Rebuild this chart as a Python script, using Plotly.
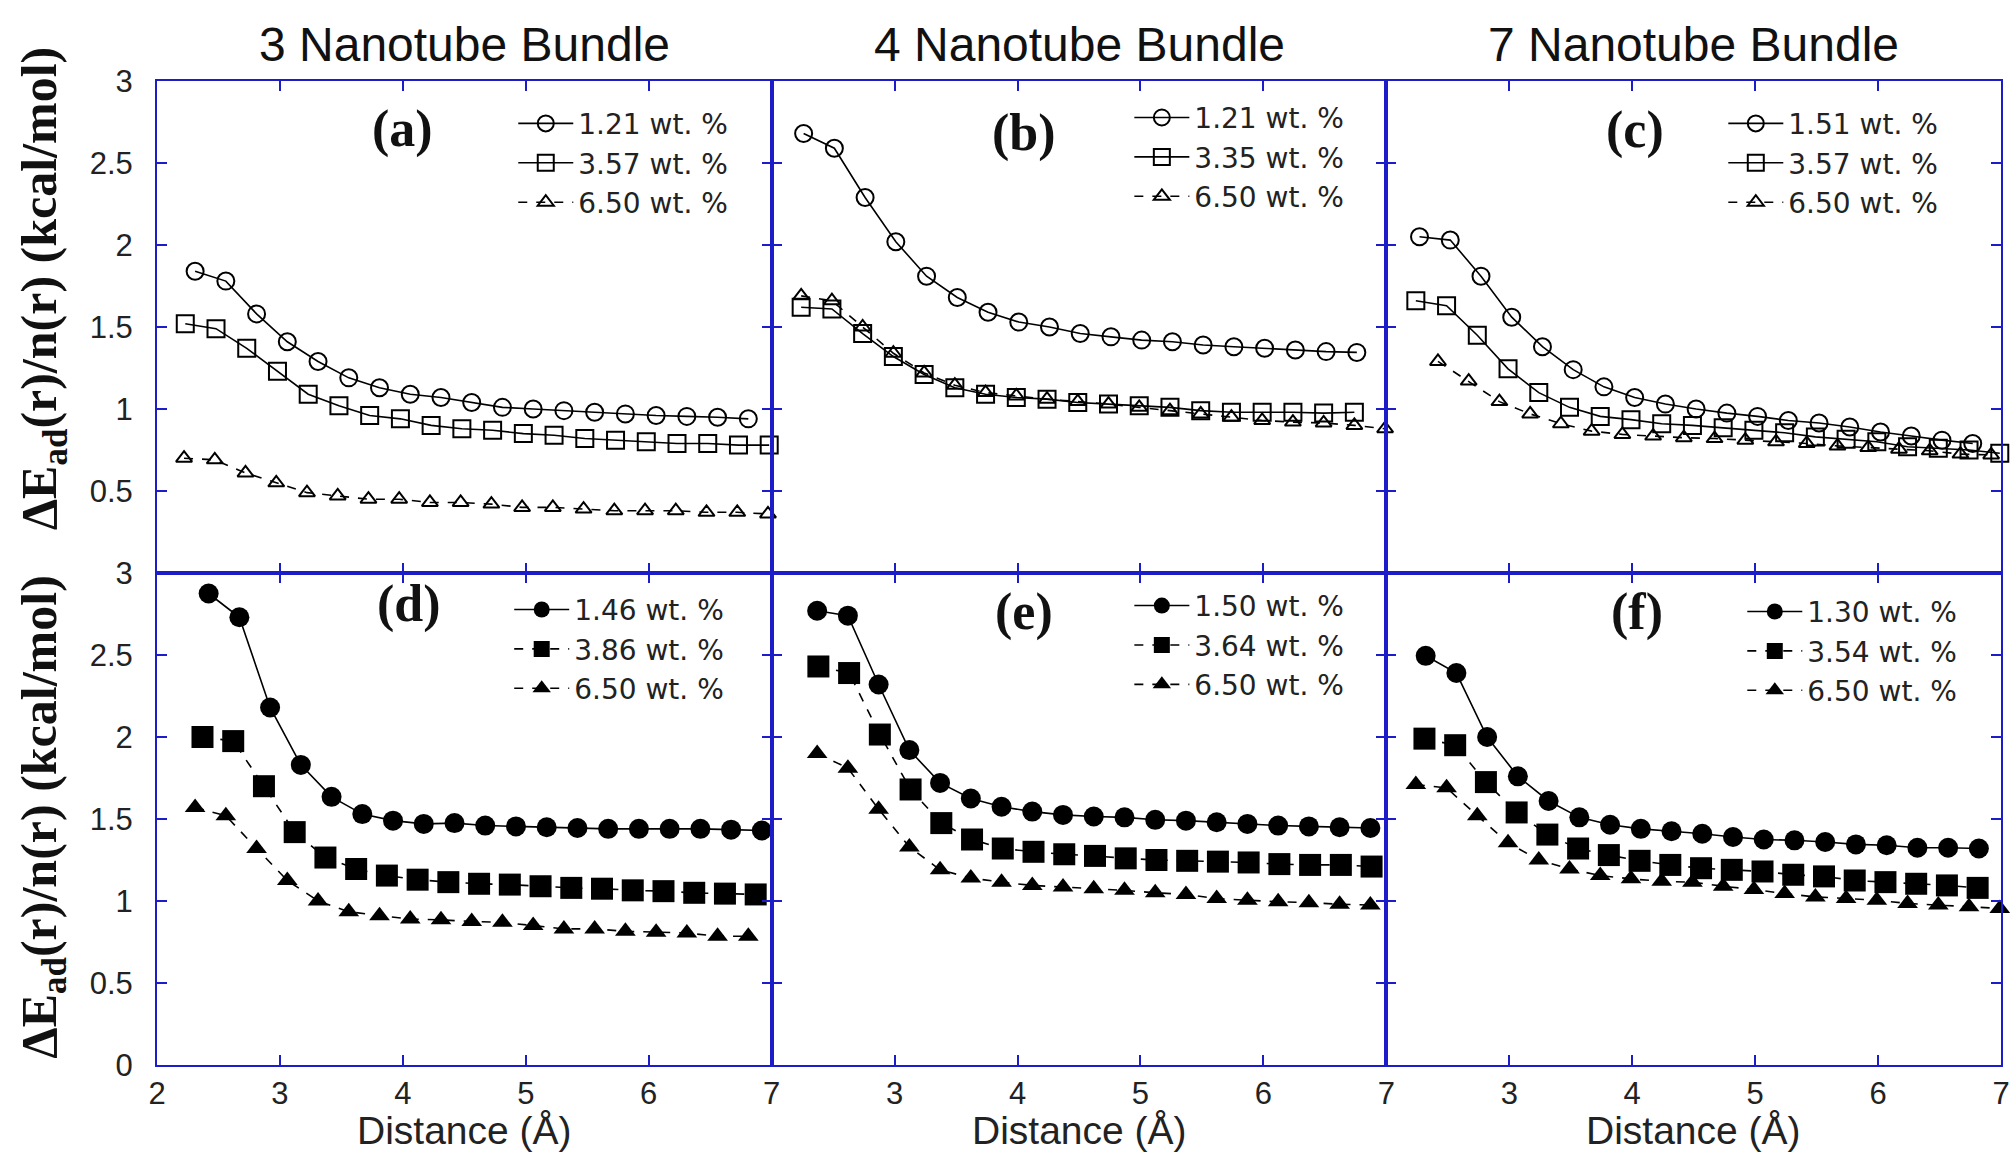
import plotly.graph_objects as go
from plotly.subplots import make_subplots

# ---------------- data ----------------
# Panel (a) 3 nanotube bundle, open symbols
xa1 = [2.31, 2.56, 2.81, 3.06, 3.31, 3.56, 3.81, 4.06, 4.31, 4.56, 4.81, 5.06, 5.31, 5.56, 5.81, 6.06, 6.31, 6.56, 6.81]
ya1 = [1.84, 1.78, 1.58, 1.41, 1.29, 1.19, 1.13, 1.09, 1.07, 1.04, 1.01, 1.00, 0.99, 0.98, 0.97, 0.96, 0.955, 0.95, 0.94]
xa2 = [2.23, 2.48, 2.73, 2.98, 3.23, 3.48, 3.73, 3.98, 4.23, 4.48, 4.73, 4.98, 5.23, 5.48, 5.73, 5.98, 6.23, 6.48, 6.73, 6.98]
ya2 = [1.52, 1.49, 1.37, 1.23, 1.09, 1.02, 0.96, 0.94, 0.90, 0.88, 0.87, 0.85, 0.84, 0.82, 0.81, 0.80, 0.79, 0.79, 0.78, 0.78]
xa3 = [2.22, 2.47, 2.72, 2.97, 3.22, 3.47, 3.72, 3.97, 4.22, 4.47, 4.72, 4.97, 5.22, 5.47, 5.72, 5.97, 6.22, 6.47, 6.72, 6.97]
ya3 = [0.70, 0.69, 0.61, 0.55, 0.49, 0.47, 0.45, 0.45, 0.43, 0.43, 0.42, 0.40, 0.40, 0.39, 0.38, 0.38, 0.38, 0.37, 0.37, 0.36]

# Panel (b) 4 nanotube bundle
xb1 = [2.26, 2.51, 2.76, 3.01, 3.26, 3.51, 3.76, 4.01, 4.26, 4.51, 4.76, 5.01, 5.26, 5.51, 5.76, 6.01, 6.26, 6.51, 6.76]
yb1 = [2.68, 2.59, 2.29, 2.02, 1.81, 1.68, 1.59, 1.53, 1.50, 1.46, 1.44, 1.42, 1.41, 1.39, 1.38, 1.37, 1.36, 1.35, 1.345]
xb2 = [2.24, 2.49, 2.74, 2.99, 3.24, 3.49, 3.74, 3.99, 4.24, 4.49, 4.74, 4.99, 5.24, 5.49, 5.74, 5.99, 6.24, 6.49, 6.74]
yb2 = [1.62, 1.61, 1.46, 1.32, 1.21, 1.13, 1.09, 1.07, 1.06, 1.04, 1.03, 1.02, 1.01, 0.99, 0.98, 0.98, 0.98, 0.975, 0.98]
xb3 = [2.24, 2.49, 2.74, 2.99, 3.24, 3.49, 3.74, 3.99, 4.24, 4.49, 4.74, 4.99, 5.24, 5.49, 5.74, 5.99, 6.24, 6.49, 6.74, 6.99]
yb3 = [1.69, 1.66, 1.50, 1.34, 1.22, 1.145, 1.10, 1.08, 1.06, 1.045, 1.03, 1.01, 0.99, 0.97, 0.95, 0.93, 0.92, 0.915, 0.90, 0.88]

# Panel (c) 7 nanotube bundle
xc1 = [2.27, 2.52, 2.77, 3.02, 3.27, 3.52, 3.77, 4.02, 4.27, 4.52, 4.77, 5.02, 5.27, 5.52, 5.77, 6.02, 6.27, 6.52, 6.77]
yc1 = [2.05, 2.03, 1.81, 1.56, 1.38, 1.24, 1.135, 1.07, 1.03, 1.00, 0.975, 0.955, 0.93, 0.915, 0.89, 0.86, 0.835, 0.81, 0.79]
xc2 = [2.24, 2.49, 2.74, 2.99, 3.24, 3.49, 3.74, 3.99, 4.24, 4.49, 4.74, 4.99, 5.24, 5.49, 5.74, 5.99, 6.24, 6.49, 6.74, 6.99]
yc2 = [1.66, 1.63, 1.45, 1.245, 1.10, 1.01, 0.955, 0.935, 0.91, 0.90, 0.885, 0.87, 0.855, 0.83, 0.815, 0.80, 0.77, 0.76, 0.75, 0.73]
xc3 = [2.42, 2.67, 2.92, 3.17, 3.42, 3.67, 3.92, 4.17, 4.42, 4.67, 4.92, 5.17, 5.42, 5.67, 5.92, 6.17, 6.42, 6.67, 6.92]
yc3 = [1.29, 1.17, 1.045, 0.97, 0.91, 0.865, 0.845, 0.835, 0.825, 0.82, 0.81, 0.80, 0.79, 0.775, 0.765, 0.755, 0.745, 0.725, 0.72]

# Panel (d) 3 nanotube bundle, filled symbols
xd1 = [2.42, 2.67, 2.92, 3.17, 3.42, 3.67, 3.92, 4.17, 4.42, 4.67, 4.92, 5.17, 5.42, 5.67, 5.92, 6.17, 6.42, 6.67, 6.92]
yd1 = [2.875, 2.73, 2.18, 1.83, 1.635, 1.53, 1.49, 1.47, 1.475, 1.46, 1.455, 1.45, 1.445, 1.44, 1.44, 1.44, 1.44, 1.435, 1.43]
xd2 = [2.37, 2.62, 2.87, 3.12, 3.37, 3.62, 3.87, 4.12, 4.37, 4.62, 4.87, 5.12, 5.37, 5.62, 5.87, 6.12, 6.37, 6.62, 6.87]
yd2 = [2.00, 1.975, 1.70, 1.42, 1.265, 1.195, 1.155, 1.13, 1.115, 1.105, 1.10, 1.09, 1.08, 1.075, 1.065, 1.06, 1.05, 1.045, 1.04]
xd3 = [2.31, 2.56, 2.81, 3.06, 3.31, 3.56, 3.81, 4.06, 4.31, 4.56, 4.81, 5.06, 5.31, 5.56, 5.81, 6.06, 6.31, 6.56, 6.81]
yd3 = [1.57, 1.52, 1.32, 1.125, 1.00, 0.935, 0.91, 0.89, 0.885, 0.875, 0.87, 0.85, 0.83, 0.83, 0.815, 0.81, 0.805, 0.785, 0.785]

# Panel (e) 4 nanotube bundle
xe1 = [2.37, 2.62, 2.87, 3.12, 3.37, 3.62, 3.87, 4.12, 4.37, 4.62, 4.87, 5.12, 5.37, 5.62, 5.87, 6.12, 6.37, 6.62, 6.87]
ye1 = [2.77, 2.74, 2.32, 1.92, 1.72, 1.625, 1.575, 1.545, 1.525, 1.515, 1.51, 1.495, 1.49, 1.48, 1.47, 1.46, 1.455, 1.45, 1.445]
xe2 = [2.38, 2.63, 2.88, 3.13, 3.38, 3.63, 3.88, 4.13, 4.38, 4.63, 4.88, 5.13, 5.38, 5.63, 5.88, 6.13, 6.38, 6.63, 6.88]
ye2 = [2.43, 2.39, 2.015, 1.68, 1.475, 1.375, 1.32, 1.30, 1.285, 1.275, 1.26, 1.25, 1.245, 1.24, 1.235, 1.225, 1.22, 1.22, 1.21]
xe3 = [2.37, 2.62, 2.87, 3.12, 3.37, 3.62, 3.87, 4.12, 4.37, 4.62, 4.87, 5.12, 5.37, 5.62, 5.87, 6.12, 6.37, 6.62, 6.87]
ye3 = [1.90, 1.81, 1.56, 1.33, 1.19, 1.14, 1.115, 1.095, 1.085, 1.075, 1.065, 1.05, 1.04, 1.015, 1.005, 0.995, 0.99, 0.98, 0.975]

# Panel (f) 7 nanotube bundle
xf1 = [2.32, 2.57, 2.82, 3.07, 3.32, 3.57, 3.82, 4.07, 4.32, 4.57, 4.82, 5.07, 5.32, 5.57, 5.82, 6.07, 6.32, 6.57, 6.82]
yf1 = [2.495, 2.39, 2.00, 1.76, 1.61, 1.51, 1.465, 1.44, 1.425, 1.41, 1.39, 1.375, 1.37, 1.36, 1.345, 1.34, 1.325, 1.325, 1.32]
xf2 = [2.31, 2.56, 2.81, 3.06, 3.31, 3.56, 3.81, 4.06, 4.31, 4.56, 4.81, 5.06, 5.31, 5.56, 5.81, 6.06, 6.31, 6.56, 6.81]
yf2 = [1.99, 1.95, 1.725, 1.54, 1.405, 1.32, 1.28, 1.245, 1.22, 1.20, 1.19, 1.18, 1.16, 1.15, 1.125, 1.115, 1.105, 1.095, 1.08]
xf3 = [2.24, 2.49, 2.74, 2.99, 3.24, 3.49, 3.74, 3.99, 4.24, 4.49, 4.74, 4.99, 5.24, 5.49, 5.74, 5.99, 6.24, 6.49, 6.74, 6.99]
yf3 = [1.71, 1.69, 1.52, 1.355, 1.25, 1.195, 1.155, 1.135, 1.12, 1.115, 1.09, 1.07, 1.045, 1.025, 1.015, 1.005, 0.985, 0.975, 0.965, 0.955]

labels_a = ["1.21 wt. %", "3.57 wt. %", "6.50 wt. %"]
labels_b = ["1.21 wt. %", "3.35 wt. %", "6.50 wt. %"]
labels_c = ["1.51 wt. %", "3.57 wt. %", "6.50 wt. %"]
labels_d = ["1.46 wt. %", "3.86 wt. %", "6.50 wt. %"]
labels_e = ["1.50 wt. %", "3.64 wt. %", "6.50 wt. %"]
labels_f = ["1.30 wt. %", "3.54 wt. %", "6.50 wt. %"]

col_titles = ["3 Nanotube Bundle", "4 Nanotube Bundle", "7 Nanotube Bundle"]
panel_tags = ["(a)", "(b)", "(c)", "(d)", "(e)", "(f)"]
x_ticks_first = [2, 3, 4, 5, 6, 7]
x_ticks_rest = [3, 4, 5, 6, 7]
y_ticks_top = [0.5, 1, 1.5, 2, 2.5, 3]
y_ticks_bottom = [0, 0.5, 1, 1.5, 2, 2.5, 3]

# ---------------- figure ----------------
BLUE = "#1c1cc8"
SANS = "Liberation Sans, Arial, sans-serif"
WIDE = "DejaVu Sans, Liberation Sans, sans-serif"
SERIF = "Liberation Serif, Times New Roman, serif"

fig = make_subplots(rows=2, cols=3, horizontal_spacing=0, vertical_spacing=0)

panels = [
    (1, 1, [(xa1, ya1), (xa2, ya2), (xa3, ya3)], labels_a, False),
    (1, 2, [(xb1, yb1), (xb2, yb2), (xb3, yb3)], labels_b, False),
    (1, 3, [(xc1, yc1), (xc2, yc2), (xc3, yc3)], labels_c, False),
    (2, 1, [(xd1, yd1), (xd2, yd2), (xd3, yd3)], labels_d, True),
    (2, 2, [(xe1, ye1), (xe2, ye2), (xe3, ye3)], labels_e, True),
    (2, 3, [(xf1, yf1), (xf2, yf2), (xf3, yf3)], labels_f, True),
]

open_syms = ["circle-open", "square-open", "triangle-up-open"]
fill_syms = ["circle", "square", "triangle-up"]
open_sizes = [17, 17, 14]
fill_sizes = [20, 22, 18]

for k, (r, c, series, labs, filled) in enumerate(panels):
    leg = "legend" if k == 0 else f"legend{k+1}"
    for j, ((xs, ys), lab) in enumerate(zip(series, labs)):
        if filled:
            marker = dict(symbol=fill_syms[j], size=fill_sizes[j], color="black",
                          line=dict(width=0))
            dash = "solid" if j == 0 else "dash"
        else:
            marker = dict(symbol=open_syms[j], size=open_sizes[j], color="black",
                          line=dict(width=2, color="black"))
            dash = "solid" if j < 2 else "dash"
        fig.add_trace(go.Scatter(
            x=xs, y=ys, mode="lines+markers", name=lab, legend=leg,
            line=dict(color="black", width=1.6, dash=dash),
            marker=marker, cliponaxis=False,
        ), row=r, col=c)

axis_common = dict(showline=True, linecolor=BLUE, linewidth=2, mirror="ticks",
                   ticks="inside", ticklen=10, tickwidth=2, tickcolor=BLUE,
                   showgrid=False, zeroline=False,
                   tickfont=dict(family=SANS, size=31, color="#222"))

for r in (1, 2):
    for c in (1, 2, 3):
        if r == 2:
            tv = x_ticks_first if c == 1 else x_ticks_rest
            fig.update_xaxes(range=[2, 7], tickvals=tv, showticklabels=True,
                             ticklabelstandoff=0, row=r, col=c, **axis_common)
        else:
            fig.update_xaxes(range=[2, 7], tickvals=x_ticks_first, showticklabels=False,
                             row=r, col=c, **axis_common)
        yv = y_ticks_top if r == 1 else y_ticks_bottom
        fig.update_yaxes(range=[0, 3], tickvals=yv, showticklabels=(c == 1),
                         ticklabelstandoff=16, row=r, col=c, **axis_common)

# legends
leg_pos = [(0.1932, 0.982), (0.5273, 0.988), (0.8494, 0.982),
           (0.1910, 0.488), (0.5273, 0.492), (0.8597, 0.486)]
layout_legends = {}
for k, (lx, ly) in enumerate(leg_pos):
    name = "legend" if k == 0 else f"legend{k+1}"
    layout_legends[name] = dict(x=lx, y=ly, xanchor="left", yanchor="top",
                                bgcolor="rgba(0,0,0,0)", borderwidth=0,
                                itemwidth=55, tracegroupgap=0,
                                font=dict(family=WIDE, size=28, color="#222"))

annotations = []
for c, t in enumerate(col_titles):
    annotations.append(dict(text=t, x=(2 * c + 1) / 6, y=1.0366, xref="paper", yref="paper",
                            showarrow=False, font=dict(family=SANS, size=48, color="#111"),
                            xanchor="center", yanchor="middle"))
tag_pos = [(4.0, 2.71), (4.05, 2.68), (4.02, 2.70), (4.05, 2.81), (4.05, 2.76), (4.04, 2.76)]
for k, t in enumerate(panel_tags):
    xr = "x" if k == 0 else f"x{k+1}"
    yr = "y" if k == 0 else f"y{k+1}"
    annotations.append(dict(text=f"<b>{t}</b>", x=tag_pos[k][0], y=tag_pos[k][1],
                            xref=xr, yref=yr, showarrow=False,
                            font=dict(family=SERIF, size=52, color="#111")))
ytitle = "<b>ΔE<sub>ad</sub>(r)/n(r) (kcal/mol)</b>"
for yy in (0.789, 0.252):
    annotations.append(dict(text=ytitle, x=-0.062, y=yy, xref="paper", yref="paper",
                            textangle=-90, showarrow=False,
                            font=dict(family=SERIF, size=50, color="#111"),
                            xanchor="center", yanchor="middle"))
for c in range(3):
    annotations.append(dict(text="Distance (Å)", x=(2 * c + 1) / 6, y=-0.067,
                            xref="paper", yref="paper", showarrow=False,
                            font=dict(family=SANS, size=39, color="#222"),
                            xanchor="center", yanchor="middle"))

fig.update_layout(
    width=2014, height=1153,
    margin=dict(l=157, r=4, t=81, b=88),
    paper_bgcolor="white", plot_bgcolor="white",
    showlegend=True,
    annotations=annotations,
    **layout_legends,
)

fig.write_html("out.html", config={"displayModeBar": False},
               post_script="document.body.style.margin='0';")
